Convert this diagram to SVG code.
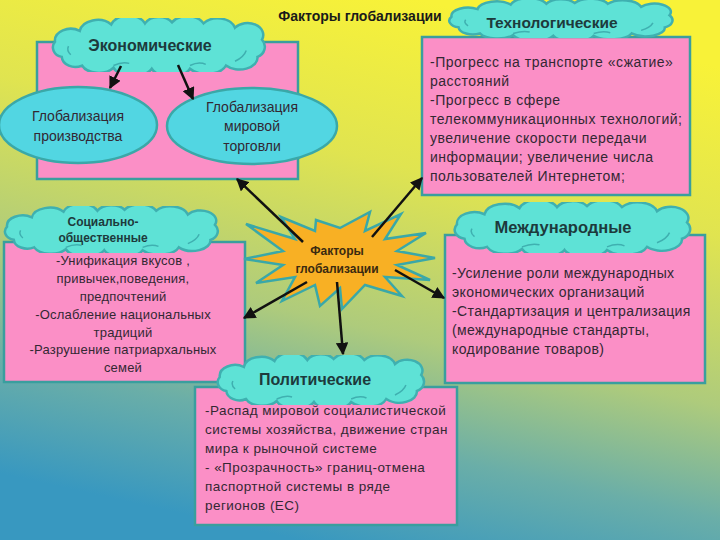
<svg xmlns="http://www.w3.org/2000/svg" xmlns:xlink="http://www.w3.org/1999/xlink" width="720" height="540" viewBox="0 0 720 540">
<defs>
<linearGradient id="bg" gradientUnits="userSpaceOnUse" x1="420" y1="0" x2="300" y2="540">
<stop offset="0" stop-color="#f8f238"/>
<stop offset="0.3" stop-color="#e0e450"/>
<stop offset="0.6" stop-color="#aecb7c"/>
<stop offset="0.8" stop-color="#6aaea8"/>
<stop offset="1" stop-color="#3898c0"/>
</linearGradient>
<symbol id="cloud" viewBox="0 0 200 50" preserveAspectRatio="none">
<path d="M 14,36 A 10 9 0 0 1 8,22 A 14 11 0 0 1 30,12 A 16 12 0 0 1 58,6 A 16 12 0 0 1 88,5 A 14 11 0 0 1 112,4 A 16 12 0 0 1 140,5 A 16 12 0 0 1 168,9 A 14 11 0 0 1 192,20 A 10 10 0 0 1 188,36 A 16 11 0 0 1 160,44 A 18 11 0 0 1 128,47 A 18 11 0 0 1 94,47 A 18 11 0 0 1 60,46 A 16 11 0 0 1 32,44 A 12 10 0 0 1 14,36 Z" fill="#5ee2d6" stroke="#3fb0b0" stroke-width="2.5" vector-effect="non-scaling-stroke"/>
<path d="M 22,34 Q 18,30 20,26 M 168,40 Q 176,36 178,30 M 60,44 Q 68,40 74,42 M 128,44 Q 136,40 142,43" fill="none" stroke="#3fb0b0" stroke-width="1.5" vector-effect="non-scaling-stroke"/>
</symbol>
<marker id="ah" viewBox="0 0 10 10" refX="9" refY="5" markerWidth="5" markerHeight="5" orient="auto" markerUnits="strokeWidth">
<path d="M0,0 L10,5 L0,10 Z" fill="#111"/>
</marker>
<style>
.box{fill:#fb8fc6;stroke:#3a9e9e;stroke-width:2.5}
.ell{fill:#52d6e2;stroke:#3aa8a8;stroke-width:2.5}
.t{font-family:"Liberation Sans",Arial,sans-serif;font-size:13px;fill:#332833}
.c{text-anchor:middle}
.tech{font-size:14px;letter-spacing:0.5px}
.intl{font-size:14px;letter-spacing:0.4px}
.pol{font-size:13.5px;letter-spacing:0.45px}
.soc{letter-spacing:0.2px}
.el{font-size:14px}
.h{font-family:"Liberation Sans",Arial,sans-serif;font-weight:bold;font-size:16px;fill:#1d3a3c;text-anchor:middle}
.hs{font-family:"Liberation Sans",Arial,sans-serif;font-weight:bold;font-size:12px;fill:#1d3a3c;text-anchor:middle}
.con line{stroke:#111;stroke-width:2.5;marker-end:url(#ah)}
</style>
</defs>
<rect width="720" height="540" fill="url(#bg)"/>

<g id="title">
<text x="360" y="21" class="hs" style="font-size:14px;fill:#1a1a1a">Факторы глобализации</text>
</g>

<g id="economic">
<rect class="box" x="37" y="42" width="261" height="137"/>
<use xlink:href="#cloud" x="46" y="18" width="225" height="54"/>
<text x="150" y="51" class="h">Экономические</text>
</g>

<g id="glob-prod">
<ellipse class="ell" cx="78" cy="125" rx="79" ry="38"/>
<text class="t c el" x="78" y="121">Глобализация</text>
<text class="t c el" x="78" y="141">производства</text>
</g>

<g id="glob-trade">
<ellipse class="ell" cx="252" cy="126" rx="85" ry="38"/>
<text class="t c el" x="252" y="112">Глобализация</text>
<text class="t c el" x="252" y="131">мировой</text>
<text class="t c el" x="252" y="151">торговли</text>
</g>

<g id="technological">
<rect class="box" x="422" y="37" width="268" height="158"/>
<use xlink:href="#cloud" x="442" y="0" width="237" height="38"/>
<text x="552" y="28" class="h" style="font-size:15.5px">Технологические</text>
<text class="t tech" x="430" y="67">-Прогресс на транспорте «сжатие»</text>
<text class="t tech" x="430" y="86">расстояний</text>
<text class="t tech" x="430" y="105">-Прогресс в сфере</text>
<text class="t tech" x="430" y="124">телекоммуникационных технологий;</text>
<text class="t tech" x="430" y="143">увеличение скорости передачи</text>
<text class="t tech" x="430" y="162">информации; увеличение числа</text>
<text class="t tech" x="430" y="181">пользователей Интернетом;</text>
</g>

<g id="social">
<rect class="box" x="4" y="242" width="241" height="140"/>
<use xlink:href="#cloud" x="-2" y="206" width="226" height="47"/>
<text x="103" y="226" class="hs">Социально-</text>
<text x="103" y="242" class="hs">общественные</text>
<text class="t c soc" x="123" y="265">-Унификация вкусов ,</text>
<text class="t c soc" x="123" y="283">привычек,поведения,</text>
<text class="t c soc" x="123" y="301">предпочтений</text>
<text class="t c soc" x="123" y="319">-Ослабление национальных</text>
<text class="t c soc" x="123" y="337">традиций</text>
<text class="t c soc" x="123" y="354">-Разрушение патриархальных</text>
<text class="t c soc" x="123" y="372">семей</text>
</g>

<g id="international">
<rect class="box" x="445" y="235" width="260" height="148"/>
<use xlink:href="#cloud" x="447" y="202" width="250" height="51"/>
<text x="563" y="233" class="h" style="font-size:16.5px">Международные</text>
<text class="t intl" x="452" y="278">-Усиление роли международных</text>
<text class="t intl" x="452" y="297">экономических организаций</text>
<text class="t intl" x="452" y="316">-Стандартизация и централизация</text>
<text class="t intl" x="452" y="335">(международные стандарты,</text>
<text class="t intl" x="452" y="354">кодирование товаров)</text>
</g>

<g id="political">
<rect class="box" x="195" y="387" width="262" height="138"/>
<use xlink:href="#cloud" x="211" y="355" width="219" height="50"/>
<text x="315" y="385" class="h">Политические</text>
<text class="t pol" x="205" y="415">-Распад мировой социалистической</text>
<text class="t pol" x="205" y="434">системы хозяйства, движение стран</text>
<text class="t pol" x="205" y="453">мира к рыночной системе</text>
<text class="t pol" x="205" y="472">- «Прозрачность» границ-отмена</text>
<text class="t pol" x="205" y="491">паспортной системы в ряде</text>
<text class="t pol" x="205" y="510">регионов (ЕС)</text>
</g>

<g id="factors">
<polygon points="435,258 397,251 426,233 385,239 401,214 365,231 370,212 340,228 316,220 315,231 281,217 295,239 246,224 283,251 244,259 283,265 256,283 295,277 282,301 315,285 320,306 340,288 342,309 365,285 402,296 385,277 430,280 397,265" fill="#f8b024" stroke="#3aa8a8" stroke-width="2.5" stroke-linejoin="miter"/>
<text x="337" y="255" class="hs" style="fill:#3a2a10">Факторы</text>
<text x="337" y="273" class="hs" style="fill:#3a2a10">глобализации</text>
</g>

<g id="connectors" class="con">
<line x1="121" y1="66" x2="110" y2="88"/>
<line x1="178" y1="65" x2="193" y2="99"/>
<line x1="303" y1="242" x2="237" y2="179"/>
<line x1="372" y1="237" x2="422" y2="178"/>
<line x1="307" y1="282" x2="244" y2="318"/>
<line x1="337" y1="282" x2="343" y2="354"/>
<line x1="395" y1="270" x2="444" y2="298"/>
</g>
</svg>
